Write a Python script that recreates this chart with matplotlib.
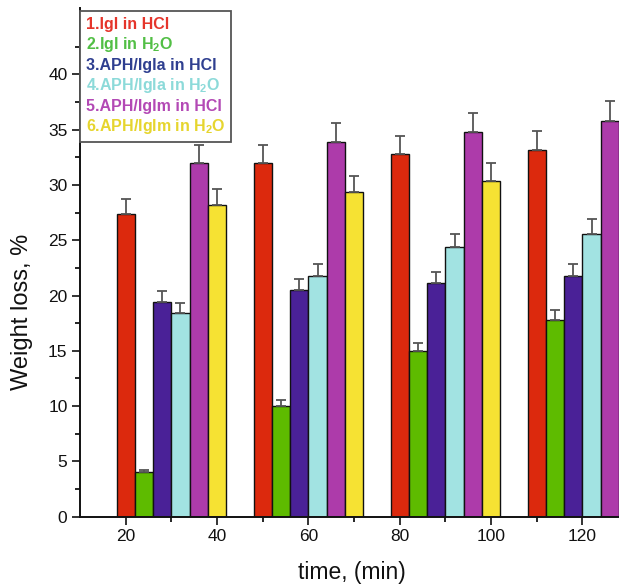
import numpy as np
import matplotlib
matplotlib.use("Agg")
import matplotlib.pyplot as plt
from matplotlib.patches import Rectangle
from matplotlib.ticker import FixedLocator

plt.rcParams['font.family'] = ['Liberation Sans', 'DejaVu Sans']
plt.rcParams['mathtext.fontset'] = 'custom'
plt.rcParams['mathtext.rm'] = 'Liberation Sans'
plt.rcParams['mathtext.bf'] = 'Liberation Sans:bold'

# ---- data ----
times = [30, 60, 90, 120]
series_labels = [
    "1.Igl in HCl",
    r"2.Igl in H$_\mathbf{2}$O",
    "3.APH/Igla in HCl",
    r"4.APH/Igla in H$_\mathbf{2}$O",
    "5.APH/Iglm in HCl",
    r"6.APH/Iglm in H$_\mathbf{2}$O",
]
igl_hcl = [27.4, 32.0, 32.8, 33.2]
igl_h2o = [4.0, 10.0, 15.0, 17.8]
aph_igla_hcl = [19.4, 20.5, 21.1, 21.8]
aph_igla_h2o = [18.4, 21.8, 24.4, 25.6]
aph_iglm_hcl = [32.0, 33.9, 34.8, 35.8]
aph_iglm_h2o = [28.2, 29.4, 30.4, np.nan]

err_igl_hcl = [1.35, 1.6, 1.65, 1.65]
err_igl_h2o = [0.2, 0.55, 0.75, 0.9]
err_aph_igla_hcl = [1.0, 1.0, 1.05, 1.05]
err_aph_igla_h2o = [0.95, 1.05, 1.2, 1.3]
err_aph_iglm_hcl = [1.6, 1.7, 1.75, 1.8]
err_aph_iglm_h2o = [1.4, 1.45, 1.55, np.nan]

values = [igl_hcl, igl_h2o, aph_igla_hcl, aph_igla_h2o, aph_iglm_hcl, aph_iglm_h2o]
errors = [err_igl_hcl, err_igl_h2o, err_aph_igla_hcl, err_aph_igla_h2o,
          err_aph_iglm_hcl, err_aph_iglm_h2o]

bar_colors = ['#DC290D', '#5EBB00', '#4A2197', '#A2E3E2', '#AD3BAA', '#F6E233']
text_colors = ['#E5352B', '#52BF45', '#2F3F90', '#8CDAD9', '#B349B5', '#E6D52E']

W, H = 619, 585
fig = plt.figure(figsize=(W / 100, H / 100), dpi=100)
ax = fig.add_axes([80 / W, 68.3 / H, 1 - 80 / W, 508.7 / H])

bar_w = 4
n = len(values)
for i, (vals, errs) in enumerate(zip(values, errors)):
    x = np.array(times) + (i - (n - 1) / 2) * bar_w
    v = np.array(vals, dtype=float)
    e = np.array(errs, dtype=float)
    ax.bar(x, v, width=bar_w, color=bar_colors[i], edgecolor='#111111',
           linewidth=1.0, zorder=2)
    ax.errorbar(x, v, yerr=[np.zeros_like(e), e], fmt='none', ecolor='#555555',
                elinewidth=1.3, capsize=3.3, capthick=1.3, zorder=3)

ax.set_xlim(10, 128)
ax.set_ylim(0, 46)
ax.xaxis.set_major_locator(FixedLocator([20, 40, 60, 80, 100, 120]))
ax.xaxis.set_minor_locator(FixedLocator([30, 50, 70, 90, 110]))
ax.yaxis.set_major_locator(FixedLocator([0, 5, 10, 15, 20, 25, 30, 35, 40]))
ax.yaxis.set_minor_locator(FixedLocator(np.arange(2.5, 43, 5)))
ax.tick_params(axis='both', which='major', direction='out', length=6, width=1.2,
               labelsize=12.5, colors='#111111', pad=3)
ax.tick_params(axis='both', which='minor', direction='out', length=3.5, width=1.2)

for s in ['top', 'right']:
    ax.spines[s].set_visible(False)
for s in ['left', 'bottom']:
    ax.spines[s].set_linewidth(1.4)
    ax.spines[s].set_color('#111111')

fig.text(21.7 / W, 1 - 311.5 / H, "Weight loss, %", rotation=90, ha='center',
         va='center', fontsize=17, color='#111111')
fig.text(352 / W, 1 - 573 / H, "time, (min)", ha='center', va='center',
         fontsize=16.5, color='#111111')

handles = [Rectangle((0, 0), 0, 0, visible=False) for _ in series_labels]
leg = ax.legend(handles, series_labels, loc='upper left',
                bbox_to_anchor=(80 / W, 1 - 11 / H), bbox_transform=fig.transFigure,
                borderaxespad=0, handlelength=0, handletextpad=0,
                labelcolor=text_colors, fancybox=False, framealpha=1,
                edgecolor='#555555', borderpad=0.35, labelspacing=0.22,
                prop={'weight': 'bold', 'size': 11.5})
leg.get_frame().set_linewidth(1.3)
leg.set_zorder(5)

fig.savefig("out.png", dpi=100)
